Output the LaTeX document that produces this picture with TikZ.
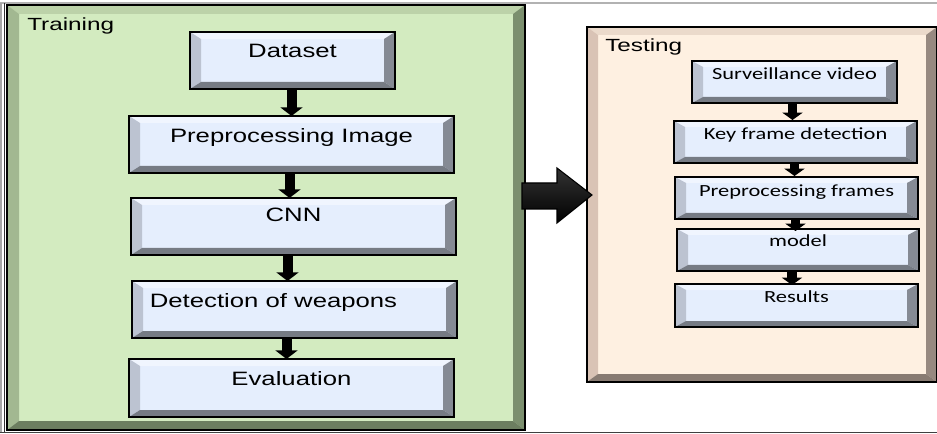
\documentclass[tikz,border=0pt]{standalone}
\usepackage{fontspec}
\setmainfont{Liberation Sans}
\newfontfamily\calib{Carlito}
\usetikzlibrary{arrows.meta,calc,fit}
\definecolor{gFill}{HTML}{D3EBC0}
\definecolor{gTop}{HTML}{BCD2A9}
\definecolor{gLeft}{HTML}{A2B891}
\definecolor{gRight}{HTML}{7B8F6E}
\definecolor{gBot}{HTML}{6C7E60}
\definecolor{pFill}{HTML}{FEF0E1}
\definecolor{pTop}{HTML}{EBDACB}
\definecolor{pLeft}{HTML}{D9C3B5}
\definecolor{pRight}{HTML}{978980}
\definecolor{pBot}{HTML}{887B72}
\definecolor{bFill}{HTML}{E5EEFD}
\definecolor{bTop}{HTML}{F0F5FE}
\definecolor{bLeft}{HTML}{BCC3D1}
\definecolor{bRight}{HTML}{858A94}
\definecolor{bBot}{HTML}{767B84}
\newcommand\sxA[1]{\scalebox{1.33}[1]{#1}}
\newcommand\sxL[1]{\scalebox{1.38}[1]{#1}}
\newcommand\sxC[1]{\scalebox{1.32}[1]{#1}}
% name, bh, bv, top, left, right, bottom
\newcommand\bevel[7]{%
  \fill[#4] (#1.north west) -- (#1.north east) -- ($(#1.north east)+(-#2,#3)$) -- ($(#1.north west)+(#2,#3)$) -- cycle;
  \fill[#5] (#1.north west) -- ($(#1.north west)+(#2,#3)$) -- ($(#1.south west)+(#2,-#3)$) -- (#1.south west) -- cycle;
  \fill[#6] (#1.north east) -- ($(#1.north east)+(-#2,#3)$) -- ($(#1.south east)+(-#2,-#3)$) -- (#1.south east) -- cycle;
  \fill[#7] (#1.south west) -- ($(#1.south west)+(#2,-#3)$) -- ($(#1.south east)+(-#2,-#3)$) -- (#1.south east) -- cycle;
  \draw[black, line width=0.9pt] (#1.north west) rectangle (#1.south east);
}
\begin{document}
\begin{tikzpicture}[x=0.75pt,y=-0.75pt,
  panel/.style={inner sep=0pt, outer sep=0pt, draw=none},
  bluebox/.style={panel, fill=bFill},
  atxt/.style={inner sep=0pt, anchor=base, font=\fontsize{14.5pt}{17pt}\selectfont},
  ctxt/.style={inner sep=0pt, anchor=base, font=\calib\fontsize{12.75pt}{15pt}\selectfont},
  ltxt/.style={inner sep=0pt, anchor=base west, font=\fontsize{13.2pt}{15pt}\selectfont},
  darr/.style={line width=7.5pt, -{Triangle[width=16.5pt,length=6.5pt]}},
  tarr/.style={line width=7pt, -{Triangle[width=15pt,length=5.5pt]}}]
\useasboundingbox (0,0) rectangle (937,434);
% outer frame
\draw[gray!60, line width=0.8pt] (0,3) -- (937,3);
\draw[gray!70, line width=0.8pt] (1,3) -- (1,432);
\draw[black!80, line width=0.9pt] (4.5,3) -- (4.5,432);
\draw[black!75, line width=1.2pt] (0,432.5) -- (937,432.5);

% training panel
\node[panel, fill=gFill, fit={(7,5) (525,430)}] (tr) {};
\bevel{tr}{12}{9}{gTop}{gLeft}{gRight}{gBot}
\node[ltxt] (trl) at (27,31) {\sxL{Training}};

% testing panel
\node[panel, fill=pFill, fit={(587,27) (937,382)}] (te) {};
\bevel{te}{11}{8}{pTop}{pLeft}{pRight}{pBot}
\node[ltxt] (tel) at (605,52) {\sxL{Testing}};

% training boxes
\node[bluebox, fit={(190,32) (395,89)}] (ds) {};
\bevel{ds}{11}{7}{bTop}{bLeft}{bRight}{bBot}
\node[atxt] (dst) at ($(ds.north)+(0,25.5)$) {\sxA{Dataset}};

\node[bluebox, fit={(129,116) (454,173)}] (pp) {};
\bevel{pp}{11}{7}{bTop}{bLeft}{bRight}{bBot}
\node[atxt] (ppt) at ($(pp.north)+(0,26.5)$) {\sxA{Preprocessing Image}};

\node[bluebox, fit={(131,198) (456,255)}] (cnn) {};
\bevel{cnn}{11}{7}{bTop}{bLeft}{bRight}{bBot}
\node[atxt] (cnnt) at ($(cnn.north)+(0,24)$) {\sxA{CNN}};

\node[bluebox, fit={(132,281) (457,338)}] (dw) {};
\bevel{dw}{11}{7}{bTop}{bLeft}{bRight}{bBot}
\node[atxt] (dwt) at ($(dw.north)+(-21,26.5)$) {\sxA{Detection of weapons}};

\node[bluebox, fit={(129,359) (454,417)}] (ev) {};
\bevel{ev}{11}{7}{bTop}{bLeft}{bRight}{bBot}
\node[atxt] (evt) at ($(ev.north)+(0,26.5)$) {\sxA{Evaluation}};

\draw[darr] ($(ds.south)+(-1,0)$) -- ($(ds.south |- pp.north)+(-1,0)$);
\draw[darr] ($(pp.south)+(-2,0)$) -- ($(pp.south |- cnn.north)+(-2,0)$);
\draw[darr] ($(cnn.south)+(-6,0)$) -- ($(cnn.south |- dw.north)+(-6,0)$);
\draw[darr] ($(dw.south)+(-8,0)$) -- ($(dw.south |- ev.north)+(-8,0)$);

% testing boxes
\node[bluebox, fit={(692,61) (897,103)}] (sv) {};
\bevel{sv}{11}{6}{bTop}{bLeft}{bRight}{bBot}
\node[ctxt] (svt) at ($(sv.north)+(0,18.5)$) {\sxC{Surveillance video}};

\node[bluebox, fit={(674,121) (917,163)}] (kf) {};
\bevel{kf}{11}{6}{bTop}{bLeft}{bRight}{bBot}
\node[ctxt] (kft) at ($(kf.north)+(0,19)$) {\sxC{Key frame detection}};

\node[bluebox, fit={(675,177) (918,219)}] (pf) {};
\bevel{pf}{11}{6}{bTop}{bLeft}{bRight}{bBot}
\node[ctxt] (pft) at ($(pf.north)+(0,20)$) {\sxC{Preprocessing frames}};

\node[bluebox, fit={(677,229) (919,271)}] (md) {};
\bevel{md}{11}{6}{bTop}{bLeft}{bRight}{bBot}
\node[ctxt] (mdt) at ($(md.north)+(0,18)$) {\sxC{model}};

\node[bluebox, fit={(675,284) (918,327)}] (rs) {};
\bevel{rs}{11}{6}{bTop}{bLeft}{bRight}{bBot}
\node[ctxt] (rst) at ($(rs.north)+(0,18)$) {\sxC{Results}};

\draw[tarr] ($(sv.south)+(-2,0)$) -- ($(sv.south |- kf.north)+(-2,-1)$);
\draw[tarr] ($(kf.south)+(-1,0)$) -- ($(kf.south |- pf.north)+(-1,-1)$);
\draw[tarr] ($(pf.south)+(-1,0)$) -- ($(pf.south |- md.north)+(-1,2)$);
\draw[tarr] ($(md.south)+(-6,0)$) -- ($(md.south |- rs.north)+(-6,1)$);

% big arrow between panels
\coordinate (yb) at (0,195);
\coordinate (bs) at ($(tr.east |- yb)+(-3,0)$);
\coordinate (bt) at ($(te.west |- yb)+(5,0)$);
\shade[top color=black!80, middle color=black!55, bottom color=black, draw=black, line width=0.8pt]
  ($(bs)+(0,-12)$) -- ($(bs)+(35,-12)$) -- ($(bs)+(35,-27)$) -- (bt)
  -- ($(bs)+(35,28)$) -- ($(bs)+(35,14)$) -- ($(bs)+(0,14)$) -- cycle;
\end{tikzpicture}
\end{document}
